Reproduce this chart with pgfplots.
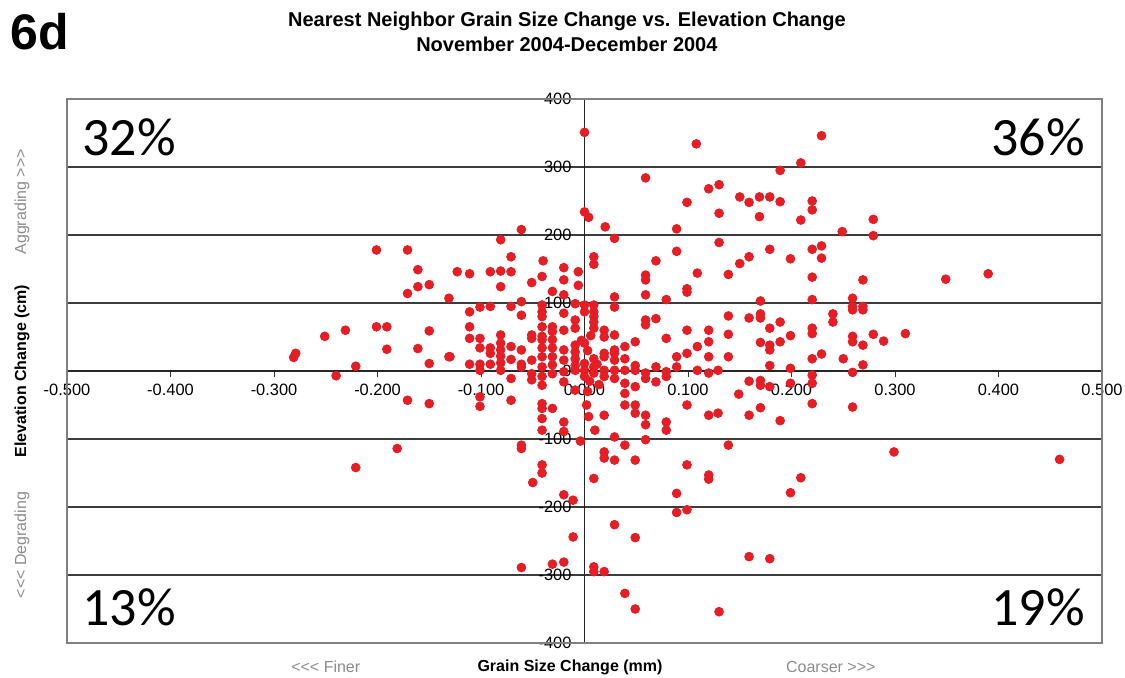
\documentclass[border=0pt]{standalone}
\usepackage{fontspec}
\setmainfont{Liberation Sans}
\newfontfamily\pctfont{Carlito}
\usepackage{pgfplots}
\pgfplotsset{compat=1.18}
\definecolor{dotred}{RGB}{228,30,36}
\definecolor{gridc}{RGB}{60,60,60}
\definecolor{framec}{RGB}{128,128,128}
\definecolor{softgray}{RGB}{140,140,140}
\newcommand{\gtr}{>\kern0pt>\kern0pt>}
\newcommand{\lss}{<\kern0pt<\kern0pt<}

\begin{document}
\begin{tikzpicture}
\path[use as bounding box] (0,0) rectangle (562.5pt,338.5pt);
\begin{axis}[
  at={(33.5pt,17pt)}, anchor=south west,
  scale only axis, width=517.5pt, height=272pt,
  xmin=-0.5, xmax=0.5, ymin=-400, ymax=400,
  enlargelimits=false, clip=false,
  axis lines=middle,
  axis line style={-, black!85, line width=0.6pt},
  hide obscured x ticks=false, hide obscured y ticks=false,
  xtick={-0.5,-0.4,-0.3,-0.2,-0.1,0,0.1,0.2,0.3,0.4,0.5},
  ytick={-400,-300,-200,-100,0,100,200,300,400},
  ymajorgrids, major grid style={gridc, line width=0.7pt},
  tick align=outside, major tick length=3pt,
  tick style={black!80, line width=0.5pt},
  /pgf/number format/assume math mode=true,
  xticklabel style={/pgf/number format/.cd, fixed, fixed zerofill, precision=3},
  ticklabel style={font=\fontsize{8.2}{9}\selectfont},
]
\addplot[only marks, mark=*, mark size=2.2pt, color=dotred] table {
x y
-0.281 20
-0.279 26
-0.251 51
-0.231 60
-0.240 -7
-0.221 7
-0.201 178
-0.171 178
-0.201 65
-0.191 65
-0.191 32
-0.161 149
-0.161 124
-0.150 127
-0.171 114
-0.161 33
-0.150 59
-0.150 11
-0.131 107
-0.131 21
-0.171 -43
-0.150 -48
-0.181 -114
-0.221 -142
-0.081 193
-0.071 168
-0.061 208
-0.040 162
-0.020 152
0.000 351
0.108 334
0.229 346
0.209 306
0.189 295
0.059 284
0.120 268
0.130 274
0.150 256
0.159 248
0.169 256
0.169 227
0.179 256
0.189 249
0.220 250
0.220 237
0.209 222
0.099 248
0.000 234
0.004 226
0.020 212
0.029 195
0.089 209
0.130 232
0.130 189
0.089 176
0.009 168
0.009 157
0.069 162
0.150 158
0.159 168
0.179 179
0.199 165
0.220 179
0.229 184
0.229 166
0.249 205
0.279 223
0.279 199
0.269 134
0.349 135
0.390 143
0.259 107
0.259 95
0.259 90
0.269 95
0.269 90
0.259 51
0.259 43
0.279 54
0.289 44
0.310 55
0.269 38
0.269 9
0.259 -2
0.259 -53
0.299 -119
0.459 -130
-0.123 146
-0.111 143
-0.130 21
-0.111 87
-0.111 65
-0.111 48
-0.111 10
-0.101 94
-0.101 48
-0.101 34
-0.101 10
-0.101 1
-0.101 -38
-0.101 -52
-0.091 146
-0.091 95
-0.091 34
-0.091 26
-0.091 10
-0.081 147
-0.081 124
-0.081 53
-0.081 41
-0.081 31
-0.081 22
-0.081 12
-0.081 1
-0.071 146
-0.071 95
-0.071 36
-0.071 17
-0.071 -11
-0.071 -43
-0.061 102
-0.061 82
-0.061 31
-0.061 10
-0.061 6
-0.061 -109
-0.061 -114
-0.051 130
-0.051 53
-0.051 48
-0.051 16
-0.051 -4
-0.051 -13
-0.041 139
-0.041 97
-0.041 87
-0.041 80
-0.041 65
-0.041 51
-0.041 46
-0.041 34
-0.041 21
-0.041 6
-0.041 -8
-0.041 -21
-0.041 -48
-0.041 -55
-0.041 -70
-0.041 -87
-0.041 -138
-0.041 -150
-0.031 117
-0.031 65
-0.031 58
-0.031 46
-0.031 34
-0.031 21
-0.031 9
-0.031 -4
-0.031 -55
-0.020 134
-0.020 112
-0.020 85
-0.020 60
-0.020 31
-0.020 16
-0.020 -1
-0.020 -16
-0.020 -75
-0.020 -89
-0.009 99
-0.009 75
-0.009 63
-0.009 38
-0.009 28
-0.009 18
-0.009 8
-0.009 1
-0.009 -28
-0.004 -103
-0.006 146
-0.006 126
-0.050 -164
-0.020 -182
-0.011 -190
-0.011 -244
-0.061 -289
-0.031 -284
-0.020 -281
0.000 97
0.000 87
0.000 41
0.000 11
0.000 1
0.000 -8
0.009 97
0.009 87
0.009 80
0.009 72
0.009 63
0.009 18
0.009 6
0.009 -3
0.002 -50
0.004 -67
0.010 -87
0.019 60
0.019 50
0.019 26
0.019 21
0.019 1
0.019 -8
0.019 -65
0.019 -119
0.019 -128
0.029 109
0.029 94
0.029 53
0.029 31
0.029 26
0.029 16
0.029 1
0.029 -11
0.029 -97
0.029 -131
0.039 36
0.039 18
0.039 1
0.039 -18
0.039 -33
0.039 -50
0.039 -109
0.049 43
0.049 8
0.049 1
0.049 -23
0.049 -50
0.049 -62
0.049 -131
0.059 141
0.059 134
0.059 112
0.059 75
0.059 68
0.059 -3
0.059 -11
0.059 -65
0.059 -79
0.059 -101
0.069 77
0.069 6
0.069 -16
0.079 105
0.079 48
0.079 -1
0.079 -8
0.079 -75
0.079 -87
0.089 21
0.089 6
0.099 121
0.099 116
0.099 60
0.099 26
0.099 -50
0.099 -138
0.109 144
0.109 36
0.109 1
0.003 30
0.005 -15
-0.003 45
0.006 52
0.012 10
0.014 -20
0.003 -30
0.139 142
0.139 81
0.139 54
0.139 21
0.139 -109
0.120 60
0.120 43
0.120 21
0.120 -3
0.120 -65
0.129 1
0.129 -62
0.149 -34
0.159 78
0.159 -15
0.159 -65
0.170 103
0.170 84
0.170 78
0.170 42
0.170 -14
0.170 -21
0.170 -54
0.179 63
0.179 38
0.179 31
0.179 8
0.179 -23
0.189 72
0.189 43
0.189 -73
0.199 52
0.199 4
0.199 -18
0.220 138
0.220 105
0.220 63
0.220 55
0.220 18
0.220 -6
0.220 -18
0.220 -48
0.229 25
0.240 84
0.240 72
0.250 18
0.009 -158
0.009 -288
0.009 -295
0.019 -295
0.029 -226
0.039 -327
0.049 -245
0.049 -350
0.089 -180
0.089 -208
0.099 -204
0.120 -153
0.120 -159
0.130 -354
0.159 -273
0.179 -276
0.199 -179
0.209 -157
};
\draw[framec, line width=0.7pt] (rel axis cs:0,0) rectangle (rel axis cs:1,1);
% quadrant shares
\node[anchor=west, inner sep=0, font=\pctfont\fontsize{27}{30}\selectfont] at (axis description cs:0.0145,0.930) {32\%};
\node[anchor=east, inner sep=0, font=\pctfont\fontsize{27}{30}\selectfont] at (axis description cs:0.9836,0.930) {36\%};
\node[anchor=west, inner sep=0, font=\pctfont\fontsize{27}{30}\selectfont] at (axis description cs:0.0145,0.066) {13\%};
\node[anchor=east, inner sep=0, font=\pctfont\fontsize{27}{30}\selectfont] at (axis description cs:0.9836,0.066) {19\%};
% titles and labels
\node[anchor=base west, inner sep=0, font=\bfseries\fontsize{25}{28}\selectfont] at (axis description cs:-0.0551,1.0919) {6d};
\node[align=center, inner sep=0, font=\bfseries\fontsize{10}{12.5}\selectfont] at (axis description cs:0.483,1.123) {Nearest Neighbor Grain Size Change vs. Elevation Change\\November 2004-December 2004};
\node[rotate=90, inner sep=0, font=\bfseries\fontsize{8}{9}\selectfont] at (axis description cs:-0.0435,0.5) {Elevation Change (cm)};
\node[rotate=90, inner sep=0, text=softgray, font=\fontsize{8}{9}\selectfont] at (axis description cs:-0.0435,0.811) {Aggrading \gtr};
\node[rotate=90, inner sep=0, text=softgray, font=\fontsize{8}{9}\selectfont] at (axis description cs:-0.0435,0.180) {\lss{} Degrading};
\node[inner sep=0, font=\bfseries\fontsize{8}{9}\selectfont] at (axis description cs:0.486,-0.0441) {Grain Size Change (mm)};
\node[inner sep=0, text=softgray, font=\fontsize{8}{9}\selectfont] at (axis description cs:0.250,-0.0441) {\lss{} Finer};
\node[inner sep=0, text=softgray, font=\fontsize{8}{9}\selectfont] at (axis description cs:0.738,-0.0441) {Coarser \gtr};
\end{axis}
\end{tikzpicture}
\end{document}
